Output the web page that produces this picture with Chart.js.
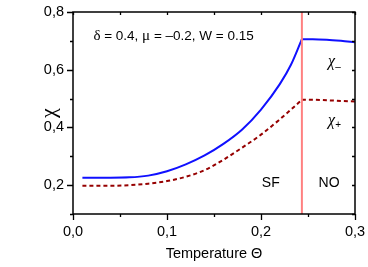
<!DOCTYPE html>
<html>
<head>
<meta charset="utf-8">
<script src="https://cdn.jsdelivr.net/npm/chart.js@4.4.0/dist/chart.umd.min.js"></script>
<style>
	body { margin: 0; background: #fff; }
	#wrap { width: 368px; height: 267px; }
</style>
</head>
<body>
<div id="wrap"><canvas id="chi-chart" width="368" height="267"></canvas></div>
<script>
// --- data ---
var tempSF = [0.01, 0.04, 0.06, 0.08, 0.10, 0.12, 0.14, 0.16, 0.18, 0.20, 0.22, 0.232, 0.2435];
var chiMinusSF = [0.226, 0.226, 0.227, 0.233, 0.248, 0.272, 0.303, 0.343, 0.393, 0.462, 0.550, 0.618, 0.706];
var chiPlusSF = [0.198, 0.198, 0.200, 0.205, 0.214, 0.229, 0.252, 0.288, 0.330, 0.375, 0.428, 0.462, 0.496];

var tempNO = [0.2435, 0.255, 0.27, 0.285, 0.3];
var chiMinusNO = [0.706, 0.706, 0.704, 0.700, 0.695];
var chiPlusNO = [0.496, 0.496, 0.494, 0.492, 0.490];

var phaseBoundary = [0.2435];

var xRange = [0, 0.3];
var yRange = [0.1, 0.8];
// --- end data ---

function pts(xs, ys) {
	return xs.map(function(x, i) { return { x: x, y: ys[i] }; });
}

function comma(v) {
	return v.toFixed(1).replace('.', ',');
}

var sans = '"Liberation Sans", Arial, sans-serif';
var serif = '"Liberation Serif", "Times New Roman", serif';

// --- axes box, ticks and labels ---
var frame = {
	id: 'frame',
	afterDatasetsDraw: function(chart) {
		var ctx = chart.ctx, a = chart.chartArea;
		var xs = chart.scales.x, ys = chart.scales.y;
		ctx.save();
		ctx.strokeStyle = '#000';
		ctx.lineWidth = 1.5;
		ctx.strokeRect(a.left, a.top, a.right - a.left, a.bottom - a.top);

		ctx.beginPath();
		xs.ticks.forEach(function(t) {
			var px = Math.round(xs.getPixelForValue(t.value)) + 0.5;
			var len = t.label !== '' ? 6 : 3;
			ctx.moveTo(px, a.bottom); ctx.lineTo(px, a.bottom + len);
			ctx.moveTo(px, a.top); ctx.lineTo(px, a.top + 3);
		});
		ys.ticks.forEach(function(t) {
			var py = Math.round(ys.getPixelForValue(t.value)) + 0.5;
			var len = t.label !== '' ? 6 : 3;
			ctx.moveTo(a.left, py); ctx.lineTo(a.left - len, py);
			ctx.moveTo(a.right, py); ctx.lineTo(a.right - 3, py);
		});
		ctx.lineWidth = 1.3;
		ctx.stroke();

		// parameter line
		ctx.fillStyle = '#000';
		ctx.textBaseline = 'middle';
		var x = xs.getPixelForValue(0.0217), y = ys.getPixelForValue(0.7165);
		var parts = [['δ', serif], [' = 0.4, ', sans], ['μ', serif], [' = –0.2, W = 0.15', sans]];
		parts.forEach(function(p) {
			ctx.font = (p[1] === serif ? '15px ' : '13.5px ') + p[1];
			ctx.fillText(p[0], x, y);
			x += ctx.measureText(p[0]).width;
		});

		// curve names
		function chi(sub, vx, vy) {
			var cx = xs.getPixelForValue(vx), cy = ys.getPixelForValue(vy);
			ctx.font = 'italic 16px ' + serif;
			ctx.textAlign = 'left';
			ctx.fillText('χ', cx, cy);
			var w = ctx.measureText('χ').width;
			ctx.font = '10px ' + sans;
			ctx.fillText(sub, cx + w, cy + 5);
		}
		chi('–', 0.2714, 0.626);
		chi('+', 0.2714, 0.424);

		// phase names
		ctx.font = '14px ' + sans;
		ctx.textAlign = 'center';
		ctx.fillText('SF', xs.getPixelForValue(0.2104), ys.getPixelForValue(0.206));
		ctx.fillText('NO', xs.getPixelForValue(0.2724), ys.getPixelForValue(0.206));
		ctx.restore();
	}
};

var ctx = document.getElementById('chi-chart').getContext('2d');

var blue = '#1010ff';
var darkRed = '#960000';

var chiChart = new Chart(ctx, {
	type: 'scatter',
	data: {
		datasets: [{
			data: pts([phaseBoundary[0], phaseBoundary[0]], yRange),
			borderColor: '#ff8080',
			borderWidth: 2
		}, {
			data: pts(tempSF, chiMinusSF),
			borderColor: blue,
			borderWidth: 2
		}, {
			data: pts(tempNO, chiMinusNO),
			borderColor: blue,
			borderWidth: 2
		}, {
			data: pts(tempSF, chiPlusSF),
			borderColor: darkRed,
			borderWidth: 2,
			borderDash: [4, 3]
		}, {
			data: pts(tempNO, chiPlusNO),
			borderColor: darkRed,
			borderWidth: 2,
			borderDash: [4, 3]
		}]
	},
	options: {
		responsive: false,
		animation: false,
		showLine: true,
		elements: {
			point: { radius: 0, hoverRadius: 0 },
			line: { cubicInterpolationMode: 'monotone', fill: false }
		},
		layout: { padding: { top: 12, right: 13, left: 0, bottom: 0 } },
		plugins: {
			legend: { display: false },
			tooltip: { enabled: false }
		},
		scales: {
			x: {
				type: 'linear',
				min: xRange[0],
				max: xRange[1],
				grid: { display: false, drawTicks: false },
				border: { display: false },
				ticks: {
					stepSize: 0.05,
					autoSkip: false,
					maxRotation: 0,
					padding: 9,
					color: '#000',
					font: { family: sans, size: 14.5 },
					callback: function(v) { return Math.round(v * 100) % 10 === 0 ? comma(v) : ''; }
				},
				title: {
					display: true,
					text: 'Temperature Θ',
					color: '#000',
					font: { family: sans, size: 14.5 },
					padding: { top: 0, bottom: 4 }
				},
				afterFit: function(s) {
					s.height = 53;
					s.paddingLeft = 0;
					s.paddingRight = 0;
				}
			},
			y: {
				type: 'linear',
				min: yRange[0],
				max: yRange[1],
				grid: { display: false, drawTicks: false },
				border: { display: false },
				ticks: {
					stepSize: 0.1,
					autoSkip: false,
					padding: 9,
					color: '#000',
					font: { family: sans, size: 14.5 },
					callback: function(v) { return Math.round(v * 10) % 2 === 0 ? comma(v) : ''; }
				},
				title: {
					display: true,
					text: 'χ',
					color: '#000',
					font: { family: serif, size: 22 },
					padding: { top: 36, bottom: 0 }
				},
				afterFit: function(s) {
					s.width = 73;
					s.paddingTop = 0;
					s.paddingBottom = 0;
				}
			}
		}
	},
	plugins: [frame]
});
</script>
</body>
</html>
